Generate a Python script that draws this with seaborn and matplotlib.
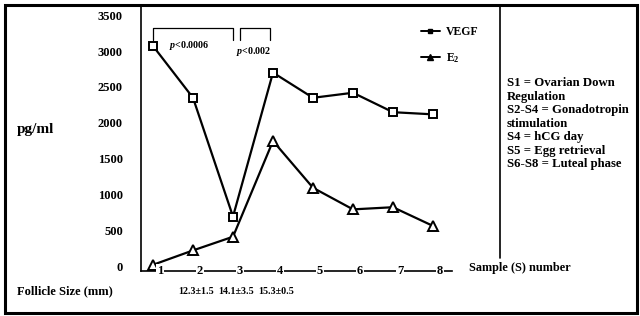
import numpy as np
import pandas as pd
import matplotlib
matplotlib.use("Agg")
import matplotlib.pyplot as plt
import seaborn as sns
from matplotlib.lines import Line2D
from matplotlib.patches import Rectangle

# --- Data ---
samples = [1, 2, 3, 4, 5, 6, 7, 8]
vegf = [3070, 2350, 700, 2700, 2350, 2420, 2150, 2120]
e2 = [30, 230, 420, 1750, 1100, 800, 830, 570]
follicle_size = ["", "12.3±1.5", "14.1±3.5", "15.3±0.5", "", "", "", ""]
y_ticks = [0, 500, 1000, 1500, 2000, 2500, 3000, 3500]
phase_notes = ["S1 = Ovarian Down", "Regulation", "S2-S4 = Gonadotropin",
               "stimulation", "S4 = hCG day", "S5 = Egg retrieval",
               "S6-S8 = Luteal phase"]
# significance brackets: (start, end, label)
brackets = [(1.0, 3.0, "$p$<0.0006"), (3.18, 3.92, "$p$<0.002")]

# --- Style ---
sns.set_style("white")
plt.rcParams['font.family'] = ['Liberation Serif', 'DejaVu Serif']
plt.rcParams['font.weight'] = 'bold'
plt.rcParams['text.color'] = 'black'
plt.rcParams['xtick.color'] = 'black'
plt.rcParams['ytick.color'] = 'black'
plt.rcParams['axes.labelcolor'] = 'black'
plt.rcParams['mathtext.fontset'] = 'custom'
plt.rcParams['mathtext.rm'] = 'Liberation Serif:bold'
plt.rcParams['mathtext.it'] = 'Liberation Serif:italic:bold'
plt.rcParams['mathtext.bf'] = 'Liberation Serif:bold'

fig = plt.figure(figsize=(6.4, 3.16), dpi=100)
ax = fig.add_axes([141 / 640, 45 / 316, 359 / 640, 266 / 316])

df = pd.DataFrame({"sample": samples, "VEGF": vegf, "E2": e2})
sns.lineplot(data=df, x="sample", y="VEGF", ax=ax, color="black", lw=1.6,
             marker="s", markersize=6, markerfacecolor="white",
             markeredgecolor="black", markeredgewidth=1.4, clip_on=False, zorder=3)
sns.lineplot(data=df, x="sample", y="E2", ax=ax, color="black", lw=1.6,
             marker="^", markersize=7, markerfacecolor="white",
             markeredgecolor="black", markeredgewidth=1.4, clip_on=False, zorder=3)

ax.set_xlim(0.7, 9.675)
ax.set_ylim(-56, 3639)
ax.set_yticks(y_ticks)
ax.set_yticklabels([str(v) for v in y_ticks], fontsize=9, fontweight='bold')
ax.tick_params(axis='y', length=4, color='#bbbbbb', labelcolor='black', width=1, pad=9)
ax.set_xticks([])
ax.set_xlabel("")
ax.set_ylabel("")

for side in ["top", "right"]:
    ax.spines[side].set_visible(False)
ax.spines['left'].set_linewidth(1.2)
ax.spines['left'].set_color('black')
ax.spines['bottom'].set_linewidth(1.2)
ax.spines['bottom'].set_color('black')
ax.spines['bottom'].set_bounds(0.7, 8.475)
ax.spines['bottom'].set_zorder(1)

# right divider line (stops short of the axis)
ax.plot([1, 1], [0.05, 1], transform=ax.transAxes, color='black', lw=1.2, clip_on=False)

# sample numbers sitting on the axis line
for s in samples:
    ax.annotate(str(s), (s, 0), xycoords=('data', 'axes fraction'),
                xytext=(5, 0), textcoords='offset points', ha='center', va='center',
                fontsize=9, fontweight='bold', zorder=4,
                bbox=dict(facecolor='white', edgecolor='none', pad=0.8))
    ax.annotate(follicle_size[s - 1], (s, 0), xycoords=('data', 'axes fraction'),
                xytext=(2, -14.5), textcoords='offset points', ha='center', va='center',
                fontsize=7.2, fontweight='bold')

# significance brackets
for x0, x1, lbl in brackets:
    ax.plot([x0, x0, x1, x1], [3150, 3320, 3320, 3150], color='black', lw=0.9)
ax.text(1.9, 3080, brackets[0][2], ha='center', va='center', fontsize=7.2)
ax.text(3.52, 2990, brackets[1][2], ha='center', va='center', fontsize=7.2)

# legend
handles = [Line2D([], [], color='black', lw=1.4, marker='s', markersize=3.5),
           Line2D([], [], color='black', lw=1.4, marker='^', markersize=4)]
ax.legend(handles, ["VEGF", "E$_2$"], loc='upper left', bbox_to_anchor=(0.75, 0.96),
          frameon=False, handlelength=1.6, handletextpad=0.5, labelspacing=1.1,
          prop={'family': 'Liberation Serif', 'weight': 'bold', 'size': 8.5})

# text labels
fig.text(17 / 640, 1 - 130 / 316, "pg/ml", fontsize=11, fontweight='bold', va='center')
fig.text(17 / 640, 1 - 291 / 316, "Follicle Size (mm)", fontsize=9, fontweight='bold', va='center')
fig.text(469 / 640, 1 - 268 / 316, "Sample (S) number", fontsize=8.8, fontweight='bold', va='center')
fig.text(507 / 640, 1 - 77 / 316, "\n".join(phase_notes), fontsize=9.2, fontweight='bold',
         va='top', linespacing=1.17)

# outer frame
fig.patches.append(Rectangle((5 / 640, 3 / 316), 632 / 640, 308 / 316,
                             transform=fig.transFigure, fill=False,
                             edgecolor='black', lw=2.2))

fig.savefig("out.png", dpi=100)
